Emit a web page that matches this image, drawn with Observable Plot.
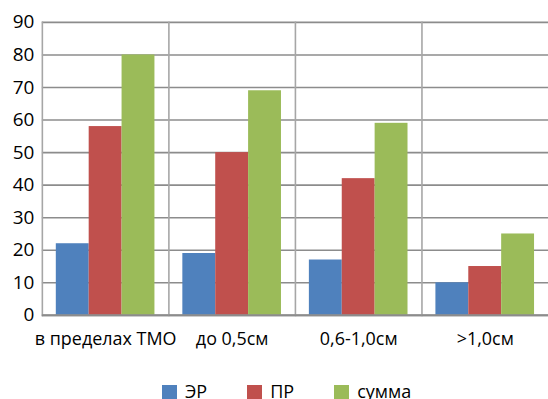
<!DOCTYPE html>
<html>
<head>
<meta charset="utf-8">
<script src="https://cdn.jsdelivr.net/npm/d3@7"></script>
<script src="https://cdn.jsdelivr.net/npm/@observablehq/plot@0.6"></script>
<style>
  html, body { margin: 0; padding: 0; background: #fff; overflow: hidden; width: 548px; height: 399px; }
  #chart { position: relative; width: 548px; }
  .legend { position: absolute; top: 384px; left: 162px; display: flex; align-items: flex-start; font-family: "Open Sans", sans-serif; font-size: 18px; line-height: 15px; color: #000; }
  .legend .item { display: flex; align-items: flex-start; margin-right: 40px; }
  .legend .sw { width: 15px; height: 14px; margin-right: 8px; margin-top: 1px; }
</style>
</head>
<body>
<div id="chart"></div>
<script>
const categories = ["в пределах ТМО", "до 0,5см", "0,6-1,0см", ">1,0см"];
const seriesNames = ["ЭР", "ПР", "сумма"];
const erValues = [22, 19, 17, 10];
const prValues = [58, 50, 42, 15];
const sumValues = [80, 69, 59, 25];
const yTicks = [0, 10, 20, 30, 40, 50, 60, 70, 80, 90];
const colors = ["#4F81BD", "#C0504D", "#9BBB59"];

const seriesValues = [erValues, prValues, sumValues];
const data = [];
categories.forEach((c, i) => {
  seriesNames.forEach((s, j) => data.push({category: c, series: s, value: seriesValues[j][i]}));
});

const chart = Plot.plot({
  width: 550,
  height: 370,
  marginLeft: 41,
  marginRight: 0,
  marginTop: 22,
  marginBottom: 54,
  style: {fontFamily: "'Open Sans', sans-serif", background: "#fff", overflow: "visible"},
  fx: {domain: categories, padding: 0, label: null},
  x: {domain: seriesNames, paddingInner: 0, paddingOuter: 0.375, axis: null},
  y: {domain: [0, 90], ticks: yTicks, label: null},
  color: {domain: seriesNames, range: colors},
  marks: [
    Plot.ruleY(yTicks, {stroke: "#8c8c8c", strokeWidth: 1.6}),
    Plot.frame({anchor: "left", stroke: "#a6a6a6", strokeWidth: 1.6, strokeOpacity: 1}),
    Plot.barY(data, {fx: "category", x: "series", y: "value", fill: "series"}),
    Plot.ruleY([0], {stroke: "#8c8c8c", strokeWidth: 2}),
    Plot.axisY({ticks: yTicks, tickSize: 0, tickPadding: 8, fontSize: 19, label: null, fill: "#000"}),
    Plot.axisFx({anchor: "bottom", tickSize: 0, tickPadding: 17, fontSize: 18, label: null, fill: "#000"})
  ]
});
document.getElementById("chart").appendChild(chart);

const legend = document.createElement("div");
legend.className = "legend";
seriesNames.forEach((s, j) => {
  const item = document.createElement("div");
  item.className = "item";
  const sw = document.createElement("div");
  sw.className = "sw";
  sw.style.background = colors[j];
  const t = document.createElement("span");
  t.textContent = s;
  item.appendChild(sw);
  item.appendChild(t);
  legend.appendChild(item);
});
document.getElementById("chart").appendChild(legend);
</script>
</body>
</html>
